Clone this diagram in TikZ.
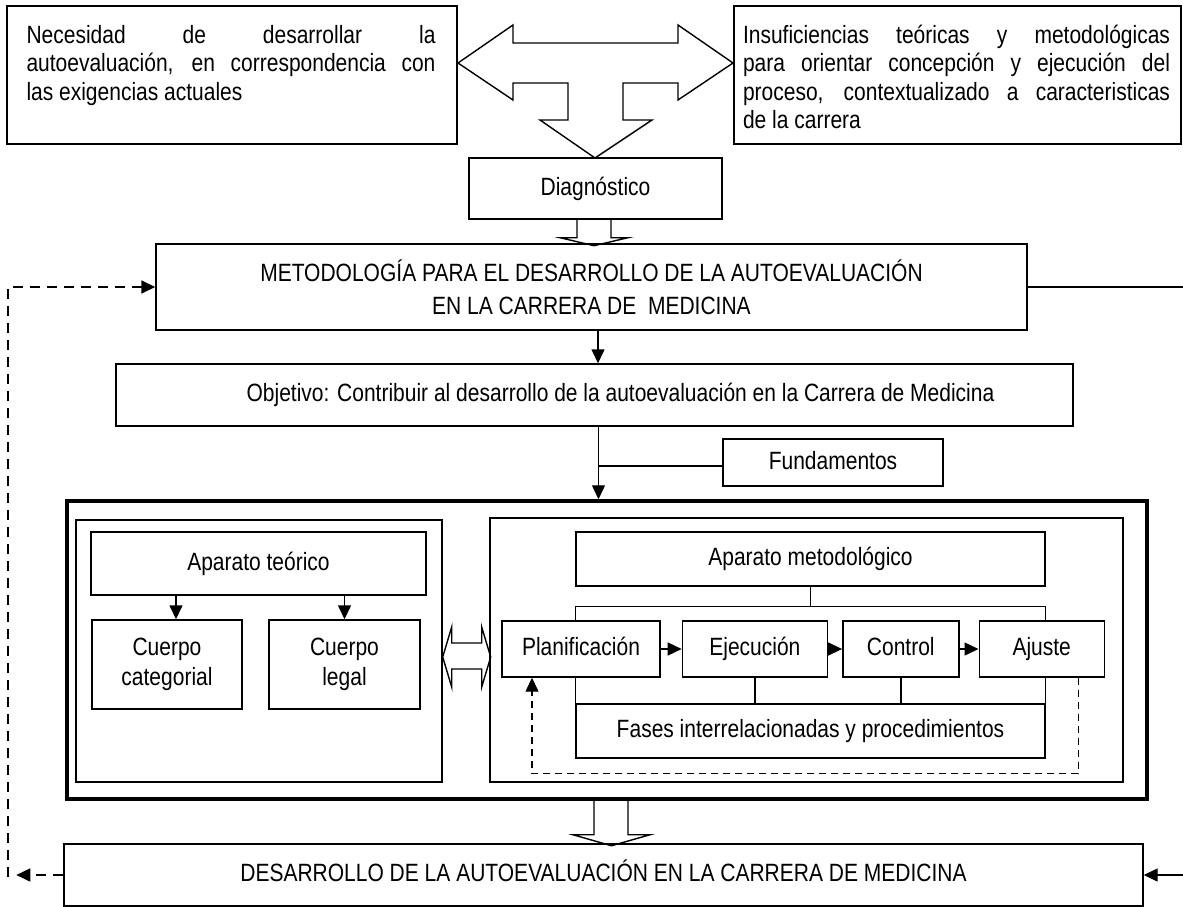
\documentclass[tikz,border=0pt]{standalone}
\usepackage{fontspec}
\setmainfont{Liberation Sans}[FakeStretch=0.84]
\usetikzlibrary{positioning, calc, arrows.meta}

\begin{document}
\begin{tikzpicture}[x=1pt, y=-1pt, font=\fontsize{25}{28.5}\selectfont,
  box/.style={draw, line width=1.4pt, inner sep=0pt, align=center},
  single/.style={text height=18pt, text depth=5pt},
  link/.style={line width=1.4pt},
  arr/.style={line width=1.4pt, -{Triangle[length=14pt, width=13pt]}},
  hollow/.style={line width=1.4pt, line join=miter},
  dash out/.style={line width=1.7pt, dash pattern=on 10pt off 7pt},
  dash in/.style={line width=1.3pt, dash pattern=on 7pt off 5pt}]
\path[use as bounding box, fill=white] (0,0) rectangle (1183,907);
\node[box, minimum width=450pt, minimum height=138pt] (nec) at (232,75) {};
\node[anchor=base west, text width=409pt, align=justify, inner sep=0pt] (nec text) at ([shift={(20,38)}]nec.north west) {\tolerance=10000 Necesidad de desarrollar la\linebreak autoevaluación, en correspondencia con\linebreak las exigencias actuales};
\node[box, minimum width=447pt, minimum height=138pt] (insuf) at (957.5,75) {};
\node[anchor=base west, text width=427pt, align=justify, inner sep=0pt] (insuf text) at ([shift={(9.5,38)}]insuf.north west) {\tolerance=10000 Insuficiencias teóricas y metodológicas\linebreak para orientar concepción y ejecución del\linebreak proceso, contextualizado a caracteristicas\linebreak de la carrera};
\draw[hollow] (458,63) -- (513,25) -- (513,43) -- (678,43) -- (678,25) -- (733,63) -- (678,100) -- (678,83) -- (623,83) -- (623,120) -- (652,120) -- (595,158) -- (540,120) -- (568,120) -- (568,83) -- (513,83) -- (513,100) -- cycle;
\node[box, single, minimum width=253pt, minimum height=61pt] (diag) at (595.5,188.5) {Diagnóstico};
\node[box, minimum width=871pt, minimum height=86pt, font=\fontsize{25}{33}\selectfont] (metod) at (591.5,287) {METODOLOGÍA PARA EL DESARROLLO DE LA AUTOEVALUACIÓN\\EN LA CARRERA DE \ MEDICINA};
\draw[hollow] ([xshift=-18.5pt]diag.south) -- ++(0,18) -- ++(-17,0) -- ++(34,8) -- ++(34,-8) -- ++(-17,0) -- ++(0,-18);
\node[box, single, minimum width=957pt, minimum height=62pt] (obj) at (594.5,395) {\hspace*{52pt}Objetivo: Contribuir al desarrollo de la autoevaluación en la Carrera de Medicina};
\node[box, single, minimum width=220pt, minimum height=47pt] (fund) at (833,462.5) {Fundamentos};
\coordinate (m out) at ([xshift=6.5pt]metod.south);
\draw[arr] (m out) -- (m out |- obj.north);
\node[box, line width=3.5pt, minimum width=1080pt, minimum height=298pt] (frame) at (607,650) {};
\coordinate (spine) at ([xshift=4pt]obj.south);
\draw[arr] (spine) -- (spine |- frame.north);
\draw[link] ([yshift=-3.5pt]fund.west) -- ([yshift=-3.5pt]fund.west -| spine);
\node[box, minimum width=366pt, minimum height=262pt] (teo box) at (259,651) {};
\node[box, minimum width=633pt, minimum height=264pt] (met box) at (806.5,650) {};
\node[box, single, minimum width=335pt, minimum height=63pt] (teor) at (258.5,563.5) {Aparato teórico};
\node[box, minimum width=150pt, minimum height=89pt, font=\fontsize{25}{30}\selectfont] (cat) at (167,664.5) {Cuerpo\\categorial};
\node[box, minimum width=151pt, minimum height=89pt, font=\fontsize{25}{30}\selectfont] (legal) at (344.5,664.5) {Cuerpo\\legal};
\coordinate (c in) at ([xshift=9pt]cat.north);
\draw[arr] (c in |- teor.south) -- (c in);
\draw[arr] (legal.north |- teor.south) -- (legal.north);
\draw[hollow] ([yshift=-6pt]teo box.east) -- ++(9,-30) -- ++(0,16) -- ++(30,0) -- ++(0,-16) -- ++(9,30) -- ++(-9,30) -- ++(0,-18) -- ++(-30,0) -- ++(0,18) -- cycle;
\node[box, single, minimum width=469pt, minimum height=54pt] (metodol) at (810.5,559) {Aparato metodológico};
\node[box, single, minimum width=158pt, minimum height=56pt] (plan) at (581,649) {Planificación};
\node[box, single, minimum width=145pt, minimum height=56pt, right=21pt of plan] (ejec) {Ejecución};
\node[box, single, minimum width=116pt, minimum height=56pt, right=14pt of ejec] (ctrl) {Control};
\node[box, single, minimum width=125pt, minimum height=56pt, right=19pt of ctrl] (ajus) {Ajuste};
\node[box, single, minimum width=469pt, minimum height=54pt] (fases) at (810.5,731) {Fases interrelacionadas y procedimientos};
\draw[link] (metodol.south) -- ++(0,20) coordinate (mj);
\draw[link] (plan.north -| fases.west) |- (mj) -| (ajus.north -| fases.east);
\draw[link] (plan.south -| fases.west) -- (fases.north west);
\draw[link] (ejec.south) -- (ejec.south |- fases.north);
\draw[link] (ctrl.south) -- (ctrl.south |- fases.north);
\draw[link] (ajus.south -| fases.east) -- (fases.north east);
\draw[arr] (plan) -- (ejec);
\draw[arr] (ejec) -- (ctrl);
\draw[arr] (ctrl) -- (ajus);
\draw[arr, dash in] ([xshift=36.5pt]ajus.south) -- ++(0,96) -| ([xshift=-49pt]plan.south);
\node[box, single, minimum width=1079pt, minimum height=62pt] (desa) at (603.5,875) {DESARROLLO DE LA AUTOEVALUACIÓN EN LA CARRERA DE MEDICINA};
\draw[hollow] ([xshift=-13pt]frame.south) -- ++(0,34) -- ++(-21,0) -- ++(38.5,11) -- ++(38.5,-11) -- ++(-22,0) -- ++(0,-34);
\draw[arr] (metod.east) -- ++(170,0) |- (desa.east);
\draw[arr, dash out] (desa.west) -- ++(-47,0);
\coordinate (l rail) at (8,877);
\draw[arr, dash out] (l rail) |- (metod.west);
\end{tikzpicture}
\end{document}
